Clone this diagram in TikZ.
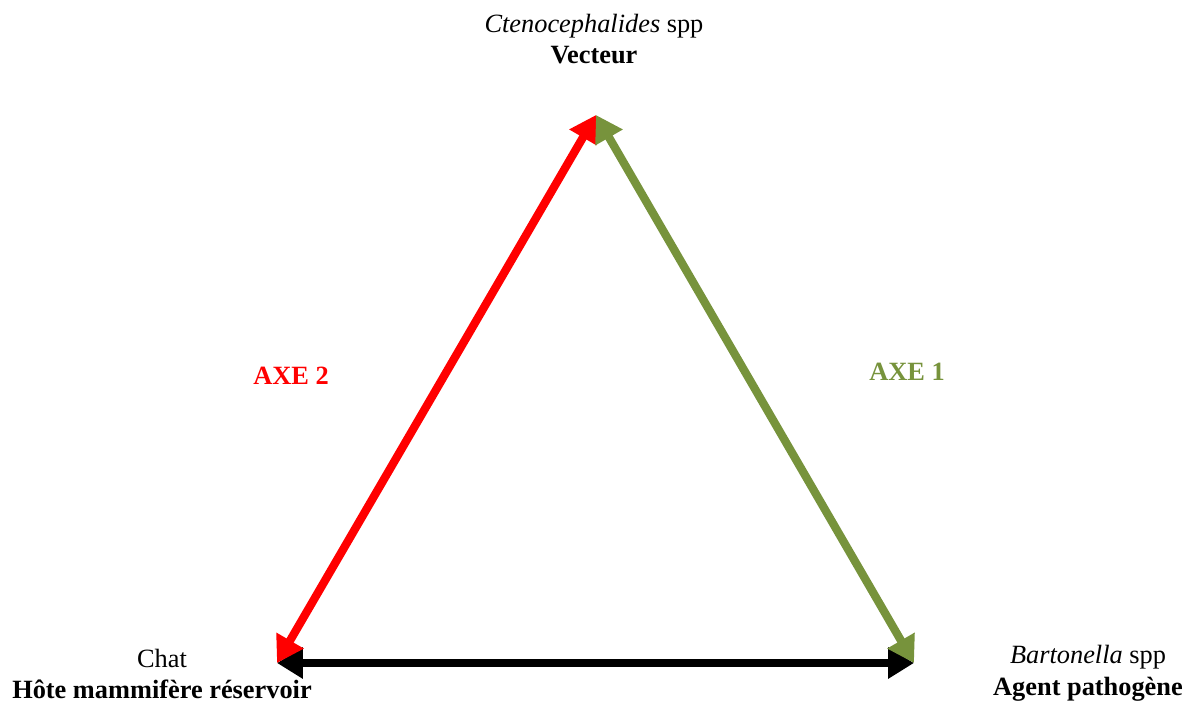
\documentclass[tikz,border=0pt]{standalone}
\usepackage{fontspec}
\setmainfont{Liberation Serif}
\usetikzlibrary{arrows.meta}
\definecolor{axegreen}{RGB}{119,147,60}
\tikzset{
  axe/.style={line width=4.7pt,{Triangle[length=0.52cm,width=0.6cm]}-{Triangle[length=0.52cm,width=0.6cm]}},
  lbl/.style={align=center,font=\fontsize{15}{18}\selectfont,inner sep=0pt}
}
\begin{document}
\begin{tikzpicture}[x=0.02cm,y=-0.02cm]
\useasboundingbox (0,0) rectangle (1194,702);
% sommets
\coordinate (vect) at (596,115);
\coordinate (chat) at (277,663);
\coordinate (bart) at (914,663);
% textes
\node[lbl] (vtxt) at (594,39) {\textit{Ctenocephalides} spp\\\textbf{Vecteur}};
\node[lbl] (ctxt) at (162,674) {Chat\\\textbf{Hôte mammifère réservoir}};
\node[lbl] (btxt) at (1088,673) {\textit{Bartonella} spp\\\textbf{Agent pathogène}};
\node[lbl,text=red] (axe2) at (291,376) {\textbf{AXE 2}};
\node[lbl,text=axegreen] (axe1) at (907,372) {\textbf{AXE 1}};
% axes
\draw[axe,black] (chat)--(bart);
\draw[axe,red] (chat)--(vect);
\draw[axe,axegreen] (vect)--(bart);
\end{tikzpicture}
\end{document}
